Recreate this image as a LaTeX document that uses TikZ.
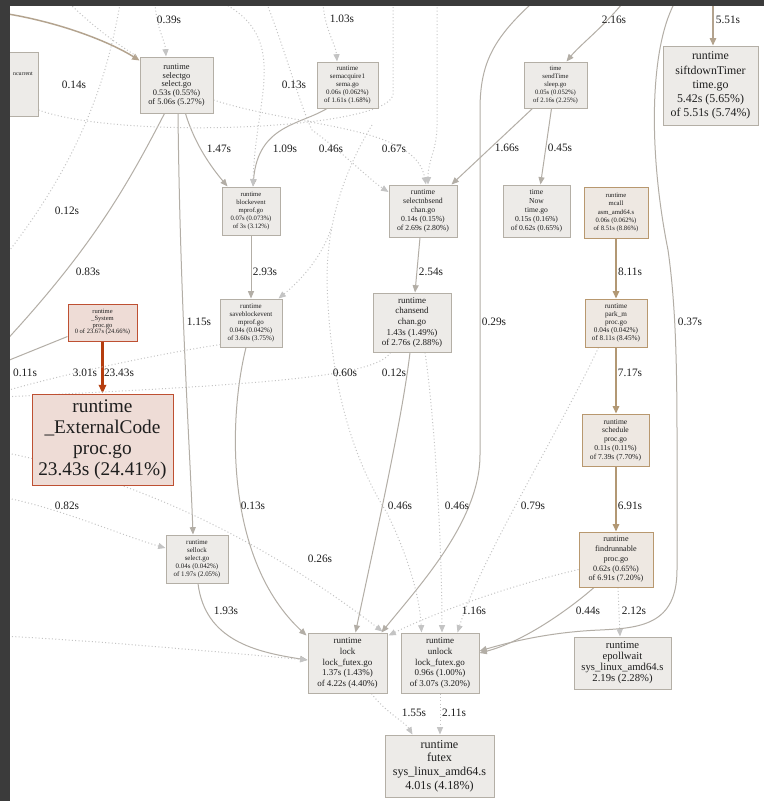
\documentclass[tikz,border=0pt]{standalone}
\usepackage{fontspec}
\setmainfont{Liberation Serif}
\usetikzlibrary{arrows.meta,calc,backgrounds}
\definecolor{fillgray}{HTML}{EDEBE8}
\definecolor{boxgray}{HTML}{B4AFA6}
\definecolor{fillbrown}{HTML}{EEE8E2}
\definecolor{boxbrown}{HTML}{B8986F}
\definecolor{fillred}{HTML}{EEDCD6}
\definecolor{boxred}{HTML}{BE5032}
\definecolor{edgegray}{HTML}{B3AEA6}
\definecolor{edgebrown}{HTML}{B29874}
\definecolor{edgetan}{HTML}{B3A38E}
\definecolor{edgered}{HTML}{B53D0E}
\definecolor{dotgray}{HTML}{C4C4C4}
\definecolor{txt}{HTML}{1E1E1E}
\definecolor{band}{HTML}{3B3B3B}
\newcommand{\pfs}[2]{\fontsize{#1}{#2}\selectfont}
\begin{document}
\begin{tikzpicture}[x=0.75pt,y=-0.75pt,
  gbox/.style={draw=boxgray, fill=fillgray, line width=0.75pt, inner sep=0pt, align=center, text=txt},
  bbox/.style={gbox, draw=boxbrown, fill=fillbrown},
  rbox/.style={gbox, draw=boxred, fill=fillred},
  sedge/.style={draw=edgegray, line width=0.75pt, -{Triangle[length=5.5pt,width=4.5pt]}},
  sline/.style={draw=edgegray, line width=0.75pt},
  bedge/.style={draw=edgebrown, line width=1.1pt, -{Triangle[length=5.5pt,width=4.8pt]}},
  dedge/.style={draw=dotgray, line width=0.75pt, dash pattern=on 0.75pt off 1.75pt, -{Triangle[length=5.5pt,width=4.5pt]}},
  dline/.style={draw=dotgray, line width=0.75pt, dash pattern=on 0.75pt off 1.75pt},
  elab/.style={font=\pfs{8.5}{9}, text=txt, inner sep=0pt}]
\useasboundingbox (0,0) rectangle (764,801);

% ---------- nodes ----------
\node[gbox, minimum width=27.75pt, minimum height=48pt] (ncur) at (19.5,84) {};
\node[font=\pfs{4.4}{5}, text=txt, inner sep=0pt, anchor=east] (ncurt) at (33,74) {ncurrent};
\node[gbox, minimum width=54.75pt, minimum height=42pt, font=\pfs{6.3}{6.5}] (sg) at (176.5,85) {runtime\\selectgo\\select.go\\0.53s (0.55\%)\\of 5.06s (5.27\%)};
\node[gbox, minimum width=45.75pt, minimum height=34.5pt, font=\pfs{5.2}{6.1}] (sema) at (347.5,85) {runtime\\semacquire1\\sema.go\\0.06s (0.062\%)\\of 1.61s (1.68\%)};
\node[gbox, minimum width=47.25pt, minimum height=34.5pt, font=\pfs{5.0}{6.0}] (send) at (555.5,85) {time\\sendTime\\sleep.go\\0.05s (0.052\%)\\of 2.16s (2.25\%)};
\node[gbox, minimum width=71.25pt, minimum height=59.25pt, font=\pfs{8.9}{10.6}] (sift) at (710.5,85.5) {runtime\\siftdownTimer\\time.go\\5.42s (5.65\%)\\of 5.51s (5.74\%)};
\node[gbox, minimum width=43.5pt, minimum height=36pt, font=\pfs{5.0}{6.1}] (blk) at (251,211) {runtime\\blockevent\\mprof.go\\0.07s (0.073\%)\\of 3s (3.12\%)};
\node[gbox, minimum width=51pt, minimum height=39pt, font=\pfs{5.8}{6.75}] (sns) at (423,211) {runtime\\selectnbsend\\chan.go\\0.14s (0.15\%)\\of 2.69s (2.80\%)};
\node[gbox, minimum width=50.25pt, minimum height=39pt, font=\pfs{5.7}{6.8}] (now) at (536.5,211) {time\\Now\\time.go\\0.15s (0.16\%)\\of 0.62s (0.65\%)};
\node[bbox, minimum width=48pt, minimum height=38.25pt, font=\pfs{5.0}{6.1}] (mcall) at (616,212.5) {runtime\\mcall\\asm\_amd64.s\\0.06s (0.062\%)\\of 8.51s (8.86\%)};
\node[rbox, minimum width=51.75pt, minimum height=27.75pt, font=\pfs{4.9}{5.0}] (sys) at (102.5,322.5) {runtime\\\_System\\proc.go\\0 of 23.67s (24.66\%)};
\node[gbox, minimum width=46.5pt, minimum height=36pt, font=\pfs{5.2}{6.0}] (sbe) at (251,323) {runtime\\saveblockevent\\mprof.go\\0.04s (0.042\%)\\of 3.60s (3.75\%)};
\node[gbox, minimum width=58.5pt, minimum height=44.25pt, font=\pfs{6.75}{7.9}] (chs) at (412,322.5) {runtime\\chansend\\chan.go\\1.43s (1.49\%)\\of 2.76s (2.88\%)};
\node[bbox, minimum width=46.5pt, minimum height=36pt, font=\pfs{5.4}{6.1}] (park) at (616,323) {runtime\\park\_m\\proc.go\\0.04s (0.042\%)\\of 8.11s (8.45\%)};
\node[rbox, minimum width=105.75pt, minimum height=68.25pt, font=\pfs{14.5}{15.75}] (ext) at (102.5,439.5) {runtime\\\_ExternalCode\\proc.go\\23.43s (24.41\%)};
\node[bbox, minimum width=50.25pt, minimum height=39pt, font=\pfs{5.7}{6.6}] (sched) at (615.5,440) {runtime\\schedule\\proc.go\\0.11s (0.11\%)\\of 7.39s (7.70\%)};
\node[gbox, minimum width=46.5pt, minimum height=36pt, font=\pfs{5.2}{6.0}] (sel) at (197,559) {runtime\\sellock\\select.go\\0.04s (0.042\%)\\of 1.97s (2.05\%)};
\node[bbox, minimum width=55.5pt, minimum height=41.25pt, font=\pfs{6.1}{7.3}] (find) at (616,559.5) {runtime\\findrunnable\\proc.go\\0.62s (0.65\%)\\of 6.91s (7.20\%)};
\node[gbox, minimum width=59.25pt, minimum height=45pt, font=\pfs{6.75}{7.9}] (lock) at (347.5,663) {runtime\\lock\\lock\_futex.go\\1.37s (1.43\%)\\of 4.22s (4.40\%)};
\node[gbox, minimum width=58.5pt, minimum height=45pt, font=\pfs{6.75}{7.9}] (unlock) at (440,663) {runtime\\unlock\\lock\_futex.go\\0.96s (1.00\%)\\of 3.07s (3.20\%)};
\node[gbox, minimum width=72.75pt, minimum height=39pt, font=\pfs{8.0}{8.25}] (epoll) at (622.5,663) {runtime\\epollwait\\sys\_linux\_amd64.s\\2.19s (2.28\%)};
\node[gbox, minimum width=81.75pt, minimum height=46.5pt, font=\pfs{9.1}{10.3}] (futex) at (439.5,766) {runtime\\futex\\sys\_linux\_amd64.s\\4.01s (4.18\%)};

% ---------- free ends ----------
\coordinate (ttl) at (2,13);
\coordinate (t039) at (155,4);
\coordinate (t070) at (70,4);
\coordinate (t014) at (120,4);
\coordinate (t013) at (225,4);
\coordinate (t046) at (267,4);
\coordinate (t103) at (323,4);
\coordinate (t393) at (393,4);
\coordinate (t067) at (437,4);
\coordinate (t029) at (531,4);
\coordinate (t216) at (622,4);
\coordinate (t037) at (674,4);
\coordinate (t551) at (713,4);
\coordinate (l014) at (2,260);
\coordinate (l083) at (2,345);
\coordinate (l011) at (2,363);
\coordinate (l301) at (2,392);
\coordinate (l012) at (2,397);
\coordinate (l026) at (2,452);
\coordinate (l082) at (2,497);
\coordinate (lbot) at (2,636);

\begin{pgfonlayer}{background}
\fill[white] (0,0) rectangle (764,801);
% ---------- solid edges ----------
\draw[bedge, draw=edgetan] (ttl) .. controls (60,22) and (110,42) .. ($(sg.north west)+(0,4)$);
\draw[sedge] ($(sg.south)+(9,0)$) .. controls (195,145) and (212,168) .. ($(blk.north west)+(6,0)$);
\draw[sedge] ($(sg.south)+(1.5,0)$) .. controls (180,300) and (190,450) .. ($(sel.north)+(-4,0)$);
\draw[sline] ($(sg.south)+(-12,0)$) .. controls (125,190) and (90,250) .. (l083);
\draw[sedge] ($(sema.south)+(-20.5,0)$) .. controls (300,125) and (258,125) .. ($(blk.north)+(2,0)$);
\draw[sedge] (blk.south) -- (sbe.north);
\draw[sedge] ($(sbe.south)+(-5,0)$) .. controls (228,420) and (225,560) .. ($(lock.north west)+(-1,3)$);
\draw[sedge] ($(sel.south)+(1,0)$) .. controls (205,640) and (255,652) .. ($(lock.west)+(0,-3)$);
\draw[sedge] ($(sns.south)+(-3,0)$) -- ($(chs.north)+(3,0)$);
\draw[sedge] ($(send.south)+(-23,0)$) -- ($(sns.north east)+(-6,0)$);
\draw[sedge] ($(send.south)+(-4,0)$) -- ($(now.north)+(4,0)$);
\draw[sedge] (t216) .. controls (600,30) and (580,45) .. ($(send.north)+(11,0)$);
\draw[bedge, draw=edgetan, line width=0.9pt] (t551) -- ($(sift.north)+(2.5,0)$);
\draw[bedge] (mcall.south) -- (park.north);
\draw[bedge] (park.south) -- ($(sched.north)+(0.5,0)$);
\draw[bedge] ($(sched.south)+(0.5,0)$) -- (find.north);
\draw[draw=edgered, line width=1.6pt, -{Triangle[length=6.5pt,width=5.5pt]}] (sys.south) -- (ext.north);
\draw[sline] ($(sys.west)+(0,14)$) -- (l011);
\draw[sedge] ($(chs.south)+(-2,0)$) .. controls (402,420) and (375,540) .. ($(lock.north)+(8,0)$);
\draw[sedge] (t029) .. controls (492,40) and (480,65) .. (480,110) -- (480,455) .. controls (480,520) and (420,585) .. ($(lock.north east)+(-6,0)$);
\draw[sedge] (t037) .. controls (650,50) and (648,150) .. (668,250) .. controls (678,320) and (677,400) .. (677,500) -- (677,570) .. controls (677,625) and (640,628) .. (600,630) .. controls (550,632) and (510,642) .. ($(unlock.east)+(0,-12)$);
\draw[sedge] ($(find.south)+(-22,0)$) .. controls (580,600) and (530,640) .. ($(unlock.east)+(0,-10)$);
% ---------- dotted edges ----------
\draw[dedge] (t039) .. controls (157,30) and (165,40) .. ($(sg.north)+(-10.5,0)$);
\draw[dline] (t070) .. controls (95,28) and (118,45) .. ($(sg.north west)+(-2,0)$);
\draw[dedge] (t103) .. controls (325,30) and (336,45) .. ($(sema.north)+(-10.5,0)$);
\draw[dedge] (t067) -- (437,125) .. controls (437,150) and (428,160) .. ($(sns.north)+(5,0)$);
\draw[dline] ($(ncur.east)+(0,26)$) .. controls (120,140) and (385,130) .. (393,95) -- (t393);
\draw[dedge] ($(sg.east)+(0,15)$) .. controls (300,128) and (415,125) .. ($(sns.north)+(3,0)$);
\draw[dedge] (t046) .. controls (285,50) and (300,105) .. (312,130) .. controls (340,150) and (370,180) .. ($(sns.west)+(0,-19)$);
\draw[dedge] (t013) .. controls (290,40) and (255,100) .. ($(blk.north)+(2,0)$);
\draw[dline] (t014) .. controls (110,60) and (90,150) .. (l014);
\draw[dline] ($(sbe.south west)+(1,-3)$) .. controls (170,352) and (70,372) .. (l301);
\draw[dedge] (372,125) .. controls (345,170) and (327,220) .. (327,280) .. controls (330,400) and (360,470) .. (387,513) .. controls (410,560) and (420,600) .. ($(unlock.north west)+(21,0)$);
\draw[dedge] (331,229) .. controls (320,262) and (295,285) .. ($(sbe.north east)+(-4,0)$);
\draw[dline] ($(chs.south west)+(18,0)$) .. controls (375,378) and (250,385) .. (l012);
\draw[dedge] ($(chs.south)+(13,0)$) .. controls (435,420) and (442,550) .. ($(unlock.north)+(2,0)$);
\draw[dedge] ($(park.south west)+(14,0)$) .. controls (560,430) and (480,560) .. ($(unlock.north east)+(-22,0)$);
\draw[dedge] ($(find.west)+(0,10)$) .. controls (500,588) and (430,615) .. ($(lock.north east)+(1,3)$);
\draw[dedge] ($(find.south)+(2,0)$) -- ($(epoll.north)+(-2.5,0)$);
\draw[dedge] ($(lock.south)+(24,0)$) .. controls (385,712) and (405,722) .. ($(futex.north west)+(28,0)$);
\draw[dedge] (unlock.south) -- ($(futex.north)+(0.5,0)$);
\draw[dedge] (l082) .. controls (60,508) and (120,535) .. ($(sel.west)+(0,-11)$);
\draw[dedge] (lbot) .. controls (100,641) and (220,652) .. ($(lock.west)+(0,-3)$);
\draw[dedge] (l026) .. controls (120,475) and (250,530) .. ($(lock.north east)+(-5,-1)$);
\end{pgfonlayer}

% ---------- edge labels ----------
\node[elab] (e039) at (169,20) {0.39s};
\node[elab] (e103) at (342,19) {1.03s};
\node[elab] (e216) at (614,20) {2.16s};
\node[elab] (e551) at (728,20) {5.51s};
\node[elab] (e014) at (74,85) {0.14s};
\node[elab] (e013) at (294,85) {0.13s};
\node[elab] (e147) at (219,149) {1.47s};
\node[elab] (e109) at (285,149) {1.09s};
\node[elab] (e046a) at (331,149) {0.46s};
\node[elab] (e067) at (394,149) {0.67s};
\node[elab] (e166) at (507,148) {1.66s};
\node[elab] (e045) at (560,148) {0.45s};
\node[elab] (e012a) at (67,211) {0.12s};
\node[elab] (e083) at (88,272) {0.83s};
\node[elab] (e293) at (265,272) {2.93s};
\node[elab] (e254) at (431,272) {2.54s};
\node[elab] (e811) at (630,272) {8.11s};
\node[elab] (e115) at (199,322) {1.15s};
\node[elab] (e029) at (494,322) {0.29s};
\node[elab] (e037) at (690,322) {0.37s};
\node[elab] (e011) at (25,373) {0.11s};
\node[elab] (e301) at (85,373) {3.01s};
\node[elab] (e2343) at (119,373) {23.43s};
\node[elab] (e060) at (345,373) {0.60s};
\node[elab] (e012b) at (394,373) {0.12s};
\node[elab] (e717) at (630,373) {7.17s};
\node[elab] (e082) at (67,506) {0.82s};
\node[elab] (e013b) at (253,506) {0.13s};
\node[elab] (e046b) at (400,506) {0.46s};
\node[elab] (e046c) at (457,506) {0.46s};
\node[elab] (e079) at (533,506) {0.79s};
\node[elab] (e691) at (630,506) {6.91s};
\node[elab] (e026) at (320,559) {0.26s};
\node[elab] (e193) at (226,611) {1.93s};
\node[elab] (e116) at (474,611) {1.16s};
\node[elab] (e044) at (588,611) {0.44s};
\node[elab] (e212) at (634,611) {2.12s};
\node[elab] (e155) at (414,713) {1.55s};
\node[elab] (e211) at (454,713) {2.11s};

% ---------- screenshot frame ----------
\fill[band] (0,0) rectangle (764,6);
\fill[band] (0,0) rectangle (10,801);
\end{tikzpicture}
\end{document}
